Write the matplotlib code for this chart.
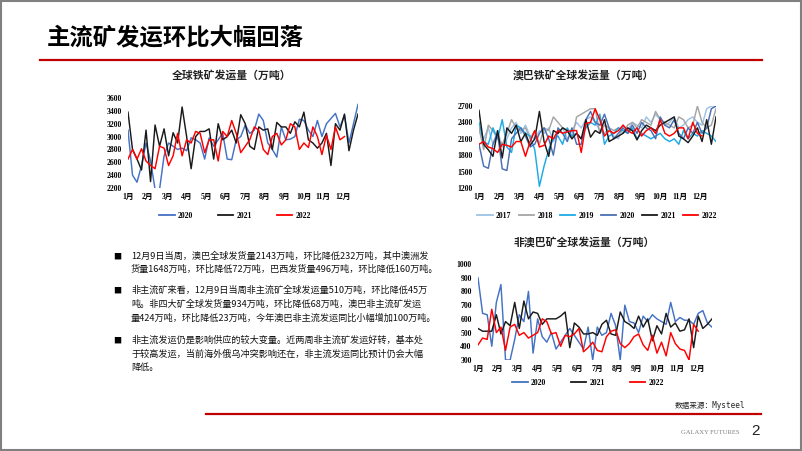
import matplotlib
matplotlib.use("Agg")
import matplotlib.pyplot as plt
from matplotlib.lines import Line2D
from matplotlib.patches import Rectangle
import numpy as np

plt.rcParams['font.family'] = ['Noto Sans CJK SC', 'DejaVu Sans']

# ---------------- data ----------------
months = ['1月', '2月', '3月', '4月', '5月', '6月', '7月', '8月', '9月', '10月', '11月', '12月']

# Chart 1: global iron ore shipments (10k t)
g_years = ['2020', '2021', '2022']
g_2020 = [3100, 2400, 2290, 2550, 2900, 2620, 2180, 2180, 2700, 2900, 2850, 2800, 2820, 2780,
          2980, 2950, 2900, 2650, 2980, 2850, 2950, 3050, 2650, 2640, 2950, 3000, 3180, 3050,
          3100, 3350, 3250, 2900, 2800, 2680, 3150, 2950, 2960, 3000, 3270, 3250, 3100, 3000,
          3250, 3000, 3200, 3280, 3360, 3150, 3330, 2900, 3200, 3500]
g_2021 = [3380, 2800, 2650, 2480, 3100, 2300, 3180, 2850, 3120, 2700, 3060, 2900, 3460, 3000,
          2500, 3000, 3080, 3080, 3120, 2650, 3200, 2950, 3000, 3100, 2900, 3340, 3200, 2850,
          2800, 3150, 3100, 3120, 2800, 3220, 3150, 3150, 3050, 3230, 3150, 3380, 2950, 2900,
          2820, 2900, 3050, 2550, 3200, 3100, 3350, 2780, 3100, 3350]
g_2022 = [2650, 2800, 2650, 2810, 2620, 2550, 2500, 2850, 2820, 2550, 2700, 3050, 2700, 2950,
          2900, 3080, 3050, 2750, 2950, 2950, 2620, 3080, 3000, 3250, 3050, 2750, 2850, 2950,
          3150, 3100, 2800, 2720, 3000, 3050, 2870, 2950, 3200, 3150, 2800, 2900, 2830, 3150,
          3000, 2720, 3020, 2800, 3150, 2950, 3000]

# Chart 2: Australia + Brazil shipments
ab_years = ['2017', '2018', '2019', '2020', '2021', '2022']
ab_2017 = [2250, 2100, 2300, 2000, 2250, 1950, 2100, 2300, 2400, 2200, 2350, 2150, 2100, 2250,
           2200, 2300, 2050, 2200, 2300, 2100, 2250, 2400, 2300, 2450, 2500, 2400, 2250, 2200,
           2300, 2150, 2100, 2350, 2250, 2400, 2350, 2300, 2500, 2400, 2550, 2450, 2350, 2400,
           2500, 2300, 2350, 2450, 2500, 2400, 2350, 2650, 2700, 2700]
ab_2018 = [2300, 1900, 2350, 2250, 2100, 2000, 2200, 2450, 2300, 2250, 2300, 2100, 2250, 2000,
           2300, 2250, 2500, 2400, 2300, 2250, 2100, 2500, 2550, 2600, 2650, 2650, 2200, 2350,
           2300, 2250, 2300, 2200, 2350, 2400, 2300, 2450, 2400, 2350, 2600, 2450, 2400, 2350,
           2300, 2500, 2450, 2300, 2350, 2700, 2400, 2300, 2350, 2650]
ab_2019 = [2400, 2050, 2000, 2300, 2100, 2450, 1950, 1850, 2350, 2300, 2200, 2150, 1900, 1230,
           1600, 1900, 2100, 2150, 2000, 2300, 2150, 2200, 2100, 2300, 2400, 2350, 2550, 2000,
           2150, 2200, 2300, 2250, 2200, 2300, 2100, 2200, 2150, 2100, 2150, 2200, 2100, 2050,
           2100, 2000, 2250, 2100, 2200, 2150, 2250, 2200, 2150, 2050]
ab_2020 = [2000, 1600, 1560, 2000, 2200, 1550, 1520, 2100, 2200, 2300, 2150, 1950, 2000, 2200,
           2300, 2100, 1800, 2300, 2200, 2050, 2300, 2000, 2000, 2450, 2600, 2400, 2350, 2550,
           2300, 2100, 2200, 2300, 2200, 2350, 2200, 2400, 2300, 2250, 2100, 2500, 2350, 2300,
           2450, 2200, 2100, 2300, 2200, 2400, 2200, 2300, 2650, 2700]
ab_2021 = [2620, 2000, 1900, 1780, 2250, 1750, 2300, 2200, 2350, 2050, 2200, 1980, 2100, 2600,
           2050, 1780, 2250, 2200, 2300, 2250, 2100, 2200, 2100, 2450, 2130, 2250, 2200, 2450,
           2050, 2100, 2150, 2200, 2300, 2250, 2080, 2250, 2350, 2300, 2250, 2350, 2400, 2450,
           2500, 2150, 2100, 2030, 2150, 2300, 2050, 2450, 2000, 2500]
ab_2022 = [2000, 2050, 1950, 1920, 1850, 2000, 1980, 1950, 2050, 2050, 1780, 2050, 2250, 1950,
           1980, 2150, 2100, 2250, 2200, 2230, 2250, 2250, 1850, 2380, 2400, 2650, 2450, 2150,
           2250, 2200, 2250, 2350, 2250, 2200, 2300, 2150, 2250, 2300, 2200, 2450, 2200, 2150,
           2200, 2300, 2300, 2100, 2400, 2200, 2150]

# Chart 3: non Australia/Brazil shipments
n_years = ['2020', '2021', '2022']
n_2020 = [900, 640, 630, 400, 720, 850, 300, 300, 450, 630, 580, 800, 350, 600, 470, 430,
          500, 380, 430, 480, 530, 480, 430, 380, 540, 300, 540, 480, 500, 640, 550, 300,
          700, 580, 570, 500, 620, 580, 630, 600, 580, 560, 720, 580, 610, 590, 590, 560,
          640, 660, 570, 540]
n_2021 = [530, 510, 510, 510, 630, 490, 580, 550, 720, 530, 730, 600, 650, 640, 560, 600,
          600, 600, 620, 650, 390, 570, 540, 490, 490, 500, 480, 560, 590, 490, 480, 650,
          580, 560, 530, 620, 540, 600, 440, 550, 490, 640, 540, 570, 510, 520, 600, 390,
          620, 530, 560, 600]
n_2022 = [410, 460, 450, 670, 500, 540, 370, 540, 560, 480, 500, 460, 480, 500, 600, 580,
          490, 500, 400, 480, 470, 490, 530, 360, 390, 430, 370, 360, 470, 510, 520, 420,
          390, 420, 470, 490, 410, 370, 480, 350, 430, 330, 500, 420, 380, 370, 300, 560, 510]

g_ticks = [2200, 2400, 2600, 2800, 3000, 3200, 3400, 3600]
ab_ticks = [1200, 1500, 1800, 2100, 2400, 2700]
n_ticks = [300, 400, 500, 600, 700, 800, 900, 1000]

title = '主流矿发运环比大幅回落'
paras = [
    ['12月9日当周，澳巴全球发货量2143万吨，环比降低232万吨，其中澳洲发',
     '货量1648万吨，环比降低72万吨，巴西发货量496万吨，环比降低160万吨。'],
    ['非主流矿来看，12月9日当周非主流矿全球发运量510万吨，环比降低45万',
     '吨。非四大矿全球发货量934万吨，环比降低68万吨，澳巴非主流矿发运',
     '量424万吨，环比降低23万吨，今年澳巴非主流发运同比小幅增加100万吨。'],
    ['非主流发运仍是影响供应的较大变量。近两周非主流矿发运好转，基本处',
     '于较高发运，当前海外俄乌冲突影响还在，非主流发运同比预计仍会大幅',
     '降低。'],
]

# ---------------- figure ----------------
W, H = 802, 451
fig = plt.figure(figsize=(W / 100, H / 100), dpi=100)

def fx(px):
    return px / W

def fy(py):
    return 1 - py / H

serif = ['Liberation Serif', 'Noto Sans CJK SC']
tickfs = 5.6

def make_axes(left, right, top, bottom, series, names, colors, yticks, ttl, ty, legcenter, colsp):
    ax = fig.add_axes([fx(left), fy(bottom), fx(right) - fx(left), fy(top) - fy(bottom)])
    for vals, nm, c in zip(series, names, colors):
        ax.plot(np.arange(len(vals)), vals, color=c, lw=1.05, label=nm)
    ax.set_xlim(0, 51)
    ax.set_ylim(yticks[0], yticks[-1])
    ax.set_yticks(yticks)
    ax.set_yticklabels([str(t) for t in yticks], family=serif, fontsize=tickfs, fontweight='bold')
    mpos = [i * 52 / 12 for i in range(12)]
    ax.set_xticks(mpos)
    ax.set_xticklabels(months, family=serif, fontsize=tickfs, fontweight='bold')
    ax.tick_params(axis='y', length=0, pad=4.5)
    ax.tick_params(axis='x', length=0, pad=3.5)
    for s in ax.spines.values():
        s.set_visible(False)
    ax.patch.set_alpha(0)
    fig.text(fx((left + right) / 2 + ty[0]), fy(ty[1]), ttl, ha='center', va='center',
             fontsize=7.8, fontweight='bold', color='#222222')
    leg = ax.legend(loc='center', bbox_to_anchor=(fx(legcenter[0]), fy(legcenter[1])),
                    bbox_transform=fig.transFigure, ncol=len(names), frameon=False,
                    prop={'family': 'Liberation Serif', 'weight': 'bold', 'size': tickfs},
                    handlelength=2.0, handletextpad=0.4, columnspacing=colsp, borderpad=0)
    for l in leg.get_lines():
        l.set_linewidth(1.3)
    return ax

make_axes(128, 358, 98, 188, [g_2020, g_2021, g_2022], g_years,
          ['#4472C4', '#1a1a1a', '#FF0000'], g_ticks,
          '全球铁矿发运量（万吨）', (-11, 75), (235, 216), 3.2)

make_axes(479, 716, 106, 188, [ab_2017, ab_2018, ab_2019, ab_2020, ab_2021, ab_2022], ab_years,
          ['#9DC3E6', '#A5A5A5', '#1EAAE6', '#4A6FB5', '#1a1a1a', '#FF0000'], ab_ticks,
          '澳巴铁矿全球发运量（万吨）', (-14, 75), (597, 216), 0.9)

make_axes(478, 712, 264, 360, [n_2020, n_2021, n_2022], n_years,
          ['#4472C4', '#1a1a1a', '#FF0000'], n_ticks,
          '非澳巴矿全球发运量（万吨）', (-11, 242), (588, 383), 3.2)

# ---------------- slide decorations ----------------
fig.patches.append(Rectangle((fx(1), fy(450)), fx(800), fy(1) - fy(450), transform=fig.transFigure,
                             fill=False, edgecolor='#808080', lw=1.5))
fig.add_artist(Line2D([fx(40), fx(762)], [fy(59.5), fy(59.5)], color='#C00000', lw=1.6))
fig.add_artist(Line2D([fx(206), fx(761)], [fy(414), fy(414)], color='#C00000', lw=1.6))

fig.text(fx(47), fy(37), title, ha='left', va='center', fontsize=16.8, fontweight='black',
         color='#000000')

line_y = [[256, 269.5], [290, 304, 318], [340, 354, 367]]
for para, ys in zip(paras, line_y):
    fig.text(fx(117), fy(ys[0]), '■', ha='center', va='center', fontsize=5.8, color='#000000')
    for txt, yy in zip(para, ys):
        fig.text(fx(131), fy(yy), txt, ha='left', va='center', fontsize=6.6, color='#111111')

fig.text(fx(745), fy(405), '数据来源：Mysteel', ha='right', va='center', fontsize=5.5,
         family=['DejaVu Sans Mono', 'Noto Sans CJK SC'], color='#222222')
fig.text(fx(710), fy(432), 'GALAXY FUTURES', ha='center', va='center', fontsize=4.8,
         family='Liberation Serif', color='#7f7f7f')
fig.text(fx(756), fy(431), '2', ha='center', va='center', fontsize=11, family='Liberation Sans',
         color='#222222')

fig.savefig('out.png', dpi=100)
